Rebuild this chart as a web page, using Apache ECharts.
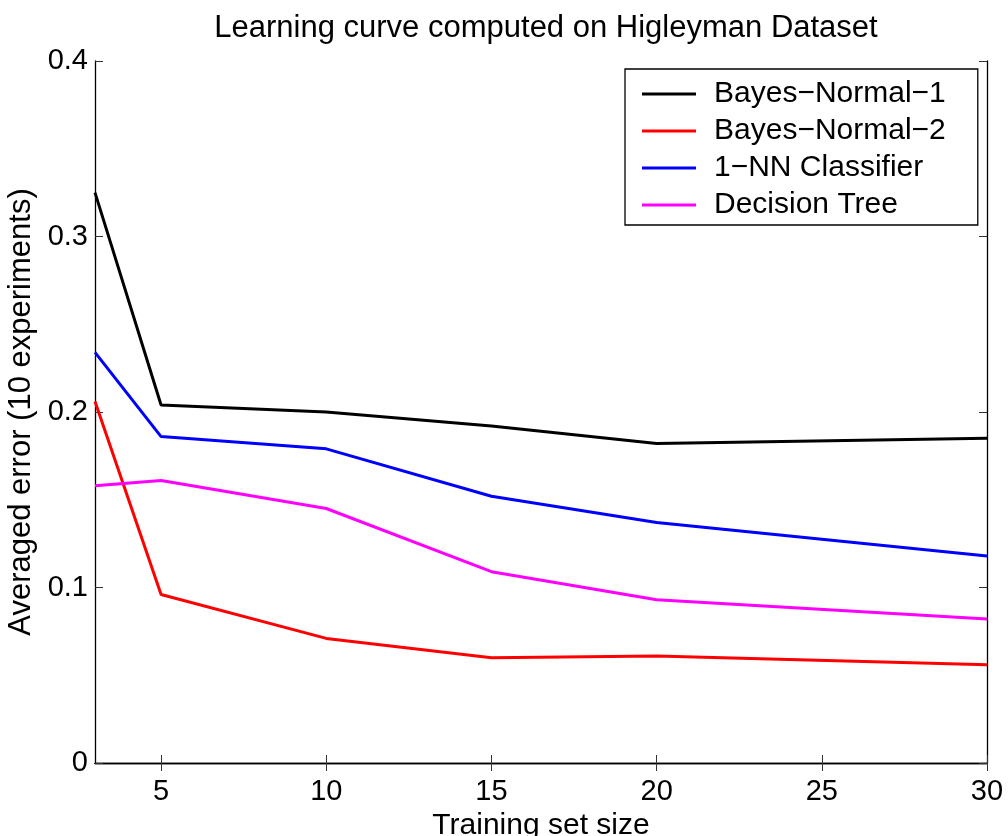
<!DOCTYPE html>
<html>
<head>
<meta charset="utf-8">
<script src="https://cdn.jsdelivr.net/npm/echarts@6/dist/echarts.min.js"></script>
<style>html,body{margin:0;padding:0;background:#fff}#c{width:1008px;height:836px}</style>
</head>
<body>
<div id="c"></div>
<script>
const trainingSizes = [3, 5, 10, 15, 20, 30];
const bayesNormal1 = [0.325, 0.204, 0.200, 0.192, 0.182, 0.185];
const bayesNormal2 = [0.206, 0.096, 0.071, 0.060, 0.061, 0.056];
const nnClassifier = [0.234, 0.186, 0.179, 0.152, 0.137, 0.118];
const decisionTree = [0.158, 0.161, 0.145, 0.109, 0.093, 0.082];
const seriesNames = ['Bayes\u2212Normal\u22121', 'Bayes\u2212Normal\u22122', '1\u2212NN Classifier', 'Decision Tree'];
const seriesColors = ['#000000', '#ff0000', '#0000ff', '#ff00ff'];
const xTicks = [5, 10, 15, 20, 25, 30];
const yTicks = [0, 0.1, 0.2, 0.3, 0.4];

const FONT = 'Liberation Sans, Arial, Helvetica, sans-serif';
const allSeries = [bayesNormal1, bayesNormal2, nnClassifier, decisionTree];

const chart = echarts.init(document.getElementById('c'));
const axisLineStyle = { color: '#000', width: 1.3 };
const tickStyle = { color: '#333', width: 1 };

chart.setOption({
  animation: false,
  backgroundColor: '#fff',
  title: {
    text: 'Learning curve computed on Higleyman Dataset',
    left: 541, top: 8, textAlign: 'center',
    textStyle: { fontFamily: FONT, fontSize: 31, fontWeight: 'normal', color: '#000' }
  },
  grid: { left: 95, top: 61, right: 21, bottom: 73, containLabel: false, outerBoundsMode: 'none' },
  legend: {
    orient: 'vertical',
    left: 625, top: 69,
    padding: [10, 32, 5, 17],
    itemGap: 7,
    itemWidth: 54, itemHeight: 3,
    icon: 'rect',
    borderColor: '#000', borderWidth: 1.3,
    backgroundColor: '#fff',
    textStyle: { fontFamily: FONT, fontSize: 30, color: '#000', padding: [0, 0, 0, 13] },
    data: seriesNames
  },
  xAxis: [{
    type: 'value', min: 3, max: 30, position: 'bottom',
    name: 'Training set size', nameLocation: 'middle', nameGap: 46,
    nameTextStyle: { fontFamily: FONT, fontSize: 30, color: '#000' },
    axisLine: { show: true, lineStyle: axisLineStyle },
    axisTick: { show: true, inside: true, length: 8, lineStyle: tickStyle, customValues: xTicks },
    axisLabel: { fontFamily: FONT, fontSize: 29, color: '#000', margin: 14, customValues: xTicks },
    splitLine: { show: false }
  }, {
    type: 'value', min: 3, max: 30, position: 'top',
    axisLine: { show: true, lineStyle: axisLineStyle },
    axisTick: { show: true, inside: true, length: 8, lineStyle: tickStyle, customValues: xTicks },
    axisLabel: { show: false },
    splitLine: { show: false }
  }],
  yAxis: [{
    type: 'value', min: 0, max: 0.4, interval: 0.1, position: 'left',
    name: 'Averaged error (10 experiments)', nameLocation: 'middle', nameGap: 49,
    nameTextStyle: { fontFamily: FONT, fontSize: 31, color: '#000' },
    axisLine: { show: true, lineStyle: axisLineStyle },
    axisTick: { show: true, inside: true, length: 8, lineStyle: tickStyle },
    axisLabel: { fontFamily: FONT, fontSize: 29, color: '#000', margin: 7 },
    splitLine: { show: false }
  }, {
    type: 'value', min: 0, max: 0.4, interval: 0.1, position: 'right',
    axisLine: { show: true, lineStyle: axisLineStyle },
    axisTick: { show: true, inside: true, length: 8, lineStyle: tickStyle },
    axisLabel: { show: false },
    splitLine: { show: false }
  }],
  series: allSeries.map((vals, i) => ({
    name: seriesNames[i],
    type: 'line',
    xAxisIndex: 0, yAxisIndex: 0,
    symbol: 'none',
    color: seriesColors[i],
    lineStyle: { color: seriesColors[i], width: 3 },
    data: trainingSizes.map((x, j) => [x, vals[j]])
  }))
});
</script>
</body>
</html>
